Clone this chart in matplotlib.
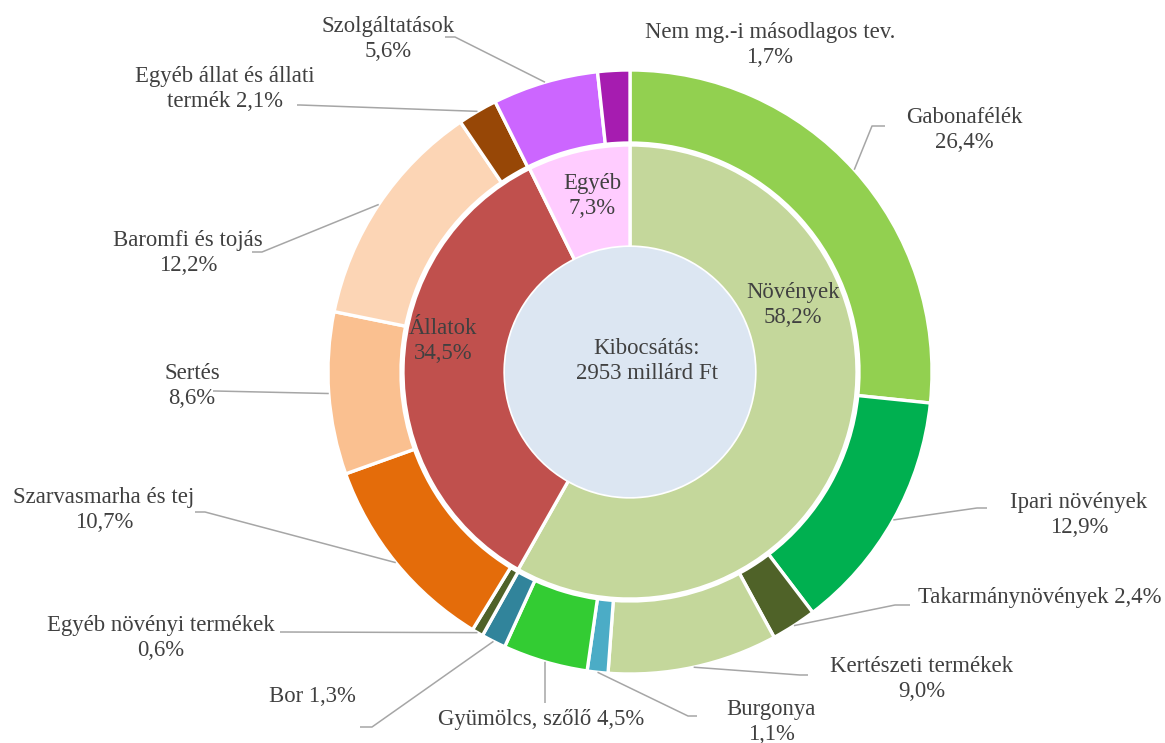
import numpy as np
import matplotlib.pyplot as plt
from matplotlib.patches import Circle

# Outer ring: product groups (clockwise from 12 o'clock)
outer_names = ['Gabonafélék', 'Ipari növények', 'Takarmánynövények', 'Kertészeti termékek',
               'Burgonya', 'Gyümölcs, szőlő', 'Bor', 'Egyéb növényi termékek',
               'Szarvasmarha és tej', 'Sertés', 'Baromfi és tojás',
               'Egyéb állat és állati\ntermék', 'Szolgáltatások', 'Nem mg.-i másodlagos tev.']
outer_values = [26.4, 12.9, 2.4, 9.0, 1.1, 4.5, 1.3, 0.6, 10.7, 8.6, 12.2, 2.1, 5.6, 1.7]
outer_sep = ['\n', '\n', ' ', '\n', '\n', ' ', ' ', '\n', '\n', '\n', '\n', ' ', '\n', '\n']
outer_colors = ['#92D050', '#00B050', '#4F6228', '#C4D79B', '#4BACC6', '#33CC33', '#31849B',
                '#4F6228', '#E46C0A', '#FAC090', '#FCD5B5', '#974706', '#CC66FF', '#A61CB0']

# Inner ring: main groups
inner_names = ['Növények', 'Állatok', 'Egyéb']
inner_values = [58.2, 34.5, 7.3]
inner_colors = ['#C4D79B', '#C0504D', '#FFCCFF']

center_text = 'Kibocsátás:\n2953 millárd Ft'

# label layout in pixel coords (x, y from top): text centre, leader start, elbow
label_pos = [(964, 130), (1079, 515), (1040, 598), (922, 679), (771, 722), (541, 720),
             (312, 697), (161, 638), (104, 510), (192, 386), (188, 253), (225, 89),
             (388, 39), (770, 45)]
leader_pts = [[(885, 126), (872, 126)], [(987, 508), (977, 508)], [(910, 605), (895, 605)],
              [(808, 675), (800, 675)], [(697, 716), (688, 716)], [(545, 703), (545, 703)],
              [(360, 727), (372, 727)], [(280, 632), (284, 632)], [(195, 512), (205, 512)],
              [(213, 391), (215, 391)], [(252, 252), (262, 252)], [(297, 105), (300, 105)],
              [(445, 37), (455, 37)], None]
inner_label_pos = [(793, 305), (443, 341), (592, 196)]

W, H = 1165, 743
C = (630, H - 372)
R_OUT, R_MID, R_IN = 302, 227, 125
TXT = '#404040'


def pct(v):
    return f'{v:.1f}'.replace('.', ',') + '%'


plt.rcParams['font.family'] = ['Liberation Serif', 'DejaVu Serif']

fig = plt.figure(figsize=(W / 100, H / 100), dpi=100)
ax = fig.add_axes([0, 0, 1, 1])

wedges, _ = ax.pie(outer_values, radius=R_OUT, center=C, startangle=90, counterclock=False,
                   colors=outer_colors,
                   wedgeprops=dict(width=R_OUT - R_MID - 2, edgecolor='white', linewidth=2.4))
ax.pie(inner_values, radius=R_MID, center=C, startangle=90, counterclock=False,
       colors=inner_colors,
       wedgeprops=dict(width=R_MID - R_IN, edgecolor='white', linewidth=2.4))
ax.add_patch(Circle(C, R_IN, facecolor='#DCE6F2', edgecolor='none', zorder=3))

ax.set_xlim(0, W)
ax.set_ylim(0, H)
ax.set_aspect('equal')
ax.axis('off')

fs = 16.4
for name, val, sep, pos, lead, w in zip(outer_names, outer_values, outer_sep,
                                        label_pos, leader_pts, wedges):
    ax.text(pos[0], H - pos[1], name + sep + pct(val), ha='center', va='center',
            fontsize=fs, color=TXT, linespacing=1.2, zorder=5)
    if lead is not None:
        # leader ends at the middle of the wedge's outer edge
        ang = np.deg2rad((w.theta1 + w.theta2) / 2)
        end_x = C[0] + w.r * np.cos(ang)
        end_y = C[1] + w.r * np.sin(ang)
        xs = [lead[0][0], lead[1][0], end_x]
        ys = [H - lead[0][1], H - lead[1][1], end_y]
        ax.plot(xs, ys, color='#A6A6A6', lw=1.1, zorder=4, solid_capstyle='butt')

for name, val, pos in zip(inner_names, inner_values, inner_label_pos):
    ax.text(pos[0], H - pos[1], name + '\n' + pct(val), ha='center', va='center',
            fontsize=fs, color=TXT, linespacing=1.2, zorder=5)

ax.text(647, H - 361, center_text, ha='center', va='center', fontsize=fs, color=TXT,
        linespacing=1.2, zorder=5)

fig.savefig('out.png', dpi=100)
